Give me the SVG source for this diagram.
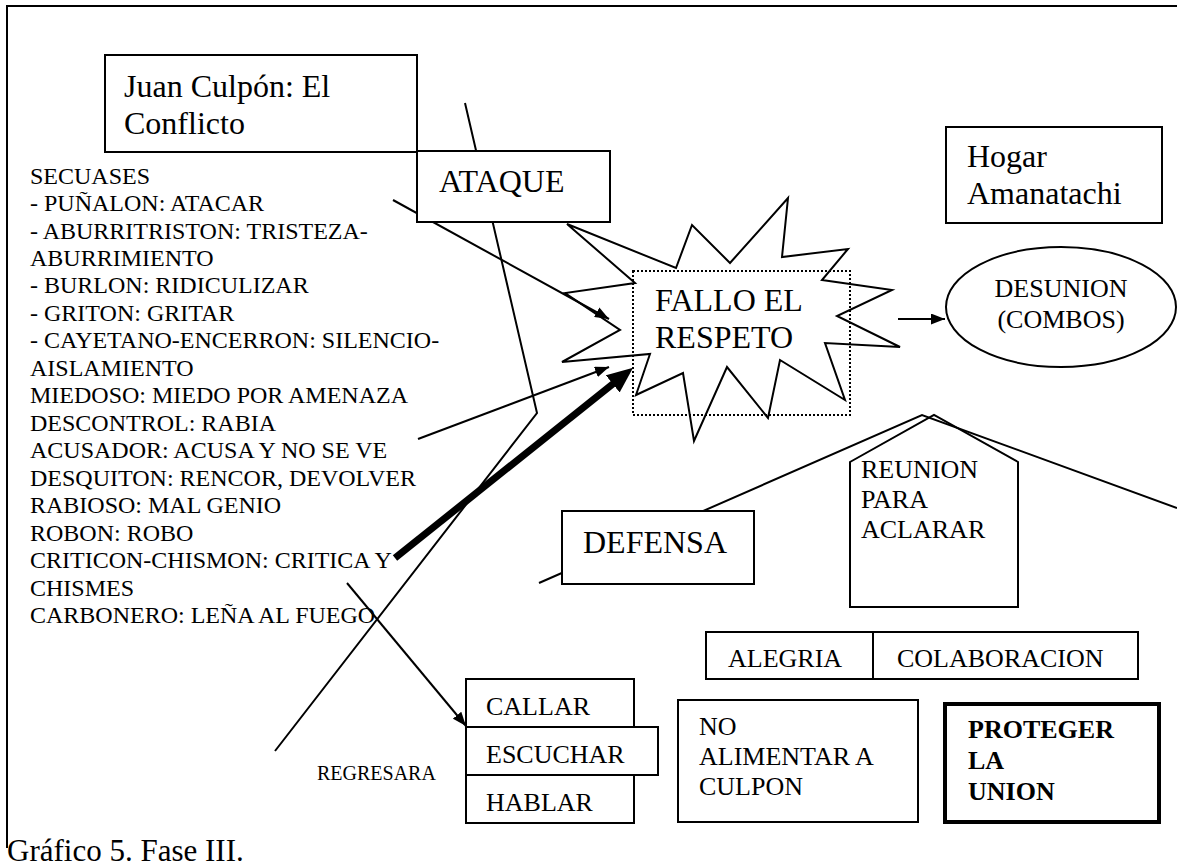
<svg xmlns="http://www.w3.org/2000/svg" width="1177" height="867" viewBox="0 0 1177 867">
<style>
text{font-family:"Liberation Serif","Times New Roman",serif;fill:#000}
.t32{font-size:32px}
.t26{font-size:26px}
.t24{font-size:24px}
.t20{font-size:20px}
.b{font-weight:bold}
.box{fill:#fff;stroke:#000;stroke-width:2}
.ln{fill:none;stroke:#000;stroke-width:2}
</style>
<defs>
<marker id="arr" markerUnits="userSpaceOnUse" markerWidth="15" markerHeight="11" refX="14" refY="5.5" orient="auto"><path d="M0,0 L14,5.5 L0,11 z" fill="#000"/></marker>
<marker id="arrBig" markerUnits="userSpaceOnUse" markerWidth="27" markerHeight="23" refX="8" refY="11" orient="auto"><path d="M0,0 L26,11 L0,22 z" fill="#000"/></marker>
</defs>
<rect width="1177" height="867" fill="#fff"/>
<path id="frame" class="ln" d="M7,848 L7,6 L1177,6"/>

<g id="fallo">
<polygon class="box" points="635,283 567,224 676,268 692,225 730,263 788,198 782,257 848,249 822,280 892,290 837,316 900,347 825,343 845,400 780,360 768,418 727,367 694,441 683,373 636,395 650,354 562,362 620,330 565,293"/>
<rect x="633" y="271" width="217" height="144" fill="none" stroke="#000" stroke-width="2" stroke-dasharray="2,2"/>
<text class="t32" x="655" y="311">FALLO EL</text>
<text class="t32" x="655" y="348">RESPETO</text>
</g>

<g id="connectors">
<polyline class="ln" points="465,103 537,413 275,751"/>
<polyline class="ln" points="539,583 922,415 1177,508"/>
<line class="ln" x1="393" y1="200" x2="609" y2="319" marker-end="url(#arr)"/>
<line class="ln" x1="418" y1="439" x2="609" y2="367" marker-end="url(#arr)"/>
<line x1="395" y1="558" x2="619" y2="379" stroke="#000" stroke-width="7" marker-end="url(#arrBig)"/>
<line class="ln" x1="898" y1="319" x2="945" y2="319" marker-end="url(#arr)"/>
<line class="ln" x1="347" y1="583" x2="466" y2="726" marker-end="url(#arr)"/>
</g>

<g id="juan">
<rect class="box" x="105" y="55" width="312" height="97"/>
<text class="t32" x="124" y="97">Juan Culpón: El</text>
<text class="t32" x="124" y="134">Conflicto</text>
</g>

<g id="ataque">
<rect class="box" x="417" y="151" width="193" height="71"/>
<text class="t32" x="439" y="192">ATAQUE</text>
</g>

<g id="secuases">
<text class="t24" x="30" y="183.6">SECUASES</text>
<text class="t24" x="30" y="211.1">- PUÑALON: ATACAR</text>
<text class="t24" x="30" y="238.5">- ABURRITRISTON: TRISTEZA-</text>
<text class="t24" x="30" y="266">ABURRIMIENTO</text>
<text class="t24" x="30" y="293.4">- BURLON: RIDICULIZAR</text>
<text class="t24" x="30" y="320.9">- GRITON: GRITAR</text>
<text class="t24" x="30" y="348.4">- CAYETANO-ENCERRON: SILENCIO-</text>
<text class="t24" x="30" y="375.8">AISLAMIENTO</text>
<text class="t24" x="30" y="403.3">MIEDOSO: MIEDO POR AMENAZA</text>
<text class="t24" x="30" y="430.7">DESCONTROL: RABIA</text>
<text class="t24" x="30" y="458.2">ACUSADOR: ACUSA Y NO SE VE</text>
<text class="t24" x="30" y="485.7">DESQUITON: RENCOR, DEVOLVER</text>
<text class="t24" x="30" y="513.1">RABIOSO: MAL GENIO</text>
<text class="t24" x="30" y="540.6">ROBON: ROBO</text>
<text class="t24" x="30" y="568">CRITICON-CHISMON: CRITICA Y</text>
<text class="t24" x="30" y="595.5">CHISMES</text>
<text class="t24" x="30" y="623">CARBONERO: LEÑA AL FUEGO</text>
</g>

<g id="hogar">
<rect class="box" x="946" y="127" width="216" height="96"/>
<text class="t32" x="967" y="167">Hogar</text>
<text class="t32" x="967" y="204">Amanatachi</text>
</g>

<g id="desunion">
<ellipse class="box" cx="1061" cy="307" rx="115" ry="60"/>
<text class="t26" x="1061" y="297" text-anchor="middle">DESUNION</text>
<text class="t26" x="1061" y="328" text-anchor="middle">(COMBOS)</text>
</g>

<g id="defensa">
<rect class="box" x="562" y="511" width="192" height="73"/>
<text class="t32" x="583" y="553">DEFENSA</text>
</g>

<g id="reunion">
<polygon class="ln" points="850,462 934,415 1018,462 1018,607 850,607"/>
<text class="t26" x="861" y="478">REUNION</text>
<text class="t26" x="861" y="508">PARA</text>
<text class="t26" x="861" y="538">ACLARAR</text>
</g>

<g id="alegria">
<rect class="box" x="706" y="632" width="167" height="47"/>
<text class="t26" x="728" y="667">ALEGRIA</text>
</g>
<g id="colaboracion">
<rect class="box" x="873" y="632" width="265" height="47"/>
<text class="t26" x="897" y="667">COLABORACION</text>
</g>

<g id="callar">
<rect class="box" x="466" y="679" width="168" height="48"/>
<text class="t26" x="486" y="715">CALLAR</text>
</g>
<g id="escuchar">
<rect class="box" x="466" y="727" width="192" height="48"/>
<text class="t26" x="486" y="763">ESCUCHAR</text>
</g>
<g id="hablar">
<rect class="box" x="466" y="775" width="168" height="48"/>
<text class="t26" x="486" y="811">HABLAR</text>
</g>

<g id="regresara">
<text class="t20" x="317" y="780">REGRESARA</text>
</g>

<g id="noalimentar">
<rect class="box" x="678" y="700" width="240" height="122"/>
<text class="t26" x="699" y="735">NO</text>
<text class="t26" x="699" y="765">ALIMENTAR A</text>
<text class="t26" x="699" y="795">CULPON</text>
</g>

<g id="proteger">
<rect x="945" y="704" width="214" height="118" fill="#fff" stroke="#000" stroke-width="4"/>
<text class="t26 b" x="968" y="738">PROTEGER</text>
<text class="t26 b" x="968" y="769">LA</text>
<text class="t26 b" x="968" y="800">UNION</text>
</g>

<g id="caption">
<text x="7" y="861" font-size="31">Gráfico 5. Fase III.</text>
</g>
</svg>
